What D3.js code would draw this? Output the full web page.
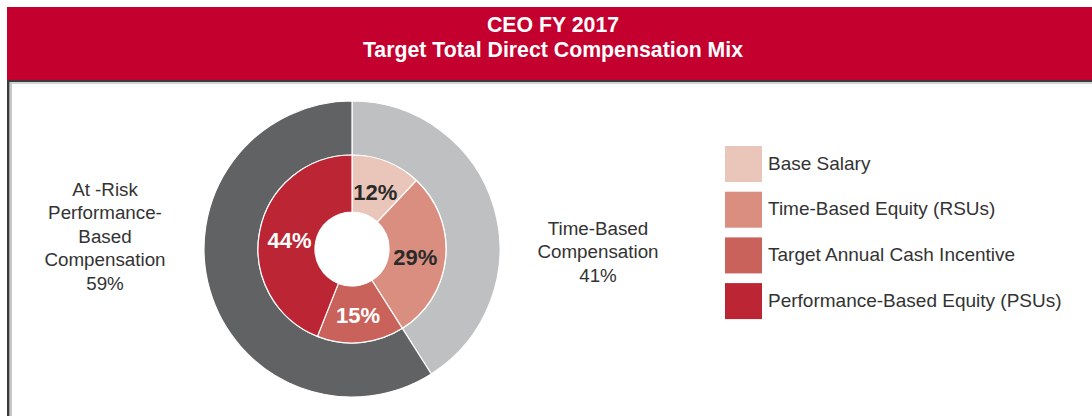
<!DOCTYPE html>
<html>
<head>
<meta charset="utf-8">
<script src="https://cdn.jsdelivr.net/npm/d3@7"></script>
<style>
  html, body { margin: 0; padding: 0; background: #fff; }
  svg { display: block; font-family: "Liberation Sans", Arial, sans-serif; }
</style>
</head>
<body>
<script>
'use strict';
// chart values
const titleLines = ['CEO FY 2017', 'Target Total Direct Compensation Mix'];
const outerCategories = ['Time-Based Compensation', 'At -Risk Performance-Based Compensation'];
const outerValues = [41, 59];
const outerColors = ['#bfc0c2', '#616264'];
const innerCategories = ['Base Salary', 'Time-Based Equity (RSUs)', 'Target Annual Cash Incentive', 'Performance-Based Equity (PSUs)'];
const innerValues = [12, 29, 15, 44];
const innerColors = ['#eac5b9', '#d98e80', '#c9625b', '#bc2634'];
const innerLabelColors = ['#2a2a2a', '#2a2a2a', '#ffffff', '#ffffff'];
const leftLabelLines = ['At -Risk', 'Performance-', 'Based', 'Compensation', '59%'];
const rightLabelLines = ['Time-Based', 'Compensation', '41%'];

(function() {
    let width = 1092, height = 416;
    let center = {x: 352, y: 249};
    let radii = {hole: 37, mid: 94, outer: 148};

    let svg = d3.select('body').append('svg')
                .attr('width', width)
                .attr('height', height);

    // header band
    svg.append('rect')
        .attr('x', 7).attr('y', 7)
        .attr('width', width - 7).attr('height', 73)
        .attr('fill', '#c4002f');

    // frame lines with a soft shadow
    svg.append('rect').attr('x', 10).attr('y', 82).attr('width', width).attr('height', 2).attr('fill', '#d4d4d4');
    svg.append('rect').attr('x', 10).attr('y', 82).attr('width', 2).attr('height', height).attr('fill', '#c8c8c8');
    svg.append('rect').attr('x', 7).attr('y', 80).attr('width', width).attr('height', 2).attr('fill', '#3a3a3a');
    svg.append('rect').attr('x', 7).attr('y', 80).attr('width', 2.5).attr('height', height).attr('fill', '#3a3a3a');

    svg.selectAll('.title')
        .data(titleLines)
        .enter()
        .append('text')
        .attr('class', 'title')
        .attr('x', 553)
        .attr('y', (d, i) => 25 + i * 25)
        .attr('text-anchor', 'middle')
        .attr('dominant-baseline', 'central')
        .attr('fill', '#fff')
        .style('font-size', '21.3px')
        .style('font-weight', 'bold')
        .text((d) => d);

    let pie = d3.pie().sort(null);
    let g = svg.append('g').attr('transform', 'translate(' + center.x + ',' + center.y + ')');

    let outerArc = d3.arc().innerRadius(radii.mid).outerRadius(radii.outer);
    g.selectAll('.outer')
        .data(pie(outerValues))
        .enter()
        .append('path')
        .attr('class', 'outer')
        .attr('d', outerArc)
        .attr('fill', (d, i) => outerColors[i])
        .attr('stroke', '#fff')
        .attr('stroke-width', 1.2);

    let innerArc = d3.arc().innerRadius(radii.hole).outerRadius(radii.mid);
    let innerPie = pie(innerValues);
    g.selectAll('.inner')
        .data(innerPie)
        .enter()
        .append('path')
        .attr('class', 'inner')
        .attr('d', innerArc)
        .attr('fill', (d, i) => innerColors[i])
        .attr('stroke', '#fff')
        .attr('stroke-width', 1.2);

    let labelArc = d3.arc().innerRadius(radii.hole - 2).outerRadius(radii.mid - 2);
    g.selectAll('.inner-label')
        .data(innerPie)
        .enter()
        .append('text')
        .attr('class', 'inner-label')
        .attr('transform', (d) => {
            let c = labelArc.centroid(d);
            return 'translate(' + c[0] + ',' + (c[1] + 3) + ')';
        })
        .attr('text-anchor', 'middle')
        .attr('dominant-baseline', 'central')
        .attr('fill', (d, i) => innerLabelColors[i])
        .style('font-size', '22px')
        .style('font-weight', 'bold')
        .text((d) => d.data + '%');

    // side labels
    function sideLabel(lines, x, y0) {
        svg.append('g').selectAll('text')
            .data(lines)
            .enter()
            .append('text')
            .attr('x', x)
            .attr('y', (d, i) => y0 + i * 23.5)
            .attr('text-anchor', 'middle')
            .attr('dominant-baseline', 'central')
            .attr('fill', '#333')
            .style('font-size', '18.8px')
            .text((d) => d);
    }
    sideLabel(leftLabelLines, 105, 189);
    sideLabel(rightLabelLines, 598, 228);

    // legend
    let legend = svg.append('g').attr('transform', 'translate(725, 146)');
    let rows = legend.selectAll('.row')
        .data(innerCategories)
        .enter()
        .append('g')
        .attr('class', 'row')
        .attr('transform', (d, i) => 'translate(0,' + (i * 45.7) + ')');
    rows.append('rect')
        .attr('width', 37)
        .attr('height', 36)
        .attr('fill', (d, i) => innerColors[i]);
    rows.append('text')
        .attr('x', 43)
        .attr('y', 17)
        .attr('dominant-baseline', 'central')
        .attr('fill', '#333')
        .style('font-size', '19px')
        .text((d) => d);
})();
</script>
</body>
</html>
